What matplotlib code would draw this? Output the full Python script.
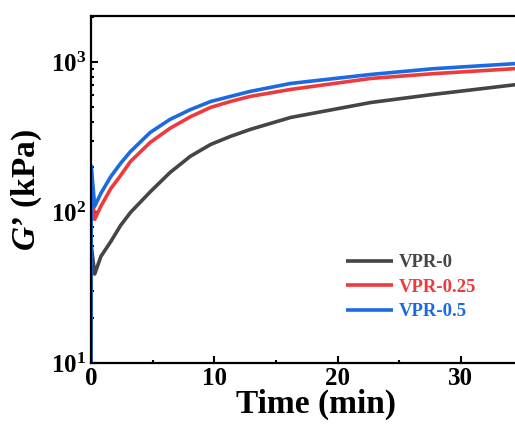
import numpy as np
import matplotlib
matplotlib.use("Agg")
import matplotlib.pyplot as plt
from matplotlib.ticker import FixedLocator, FuncFormatter, LogLocator

plt.rcParams['font.family'] = ['Liberation Serif', 'DejaVu Serif']
plt.rcParams['font.weight'] = 'bold'
plt.rcParams['mathtext.fontset'] = 'custom'
plt.rcParams['mathtext.rm'] = 'Liberation Serif:bold'
plt.rcParams['mathtext.bf'] = 'Liberation Serif:bold'
plt.rcParams['mathtext.it'] = 'Liberation Serif:bold:italic'

# values (time in min, G' in kPa)
time = [0.0, 0.02, 0.3, 0.8, 1.6, 2.4, 3.2, 4.8, 6.4, 8.05, 9.7, 11.3, 12.9, 16.2, 22.7, 27.7, 34.6]
vpr_0 = [5, 60, 39, 51, 64, 82, 100, 137, 184, 236, 283, 320, 356, 428, 538, 608, 709]
vpr_025 = [5, 150, 90, 110, 144, 176, 218, 292, 362, 432, 499, 546, 590, 657, 777, 835, 905]
vpr_05 = [5, 204, 110, 134, 173, 212, 254, 340, 415, 482, 546, 590, 637, 720, 826, 901, 977]

labels = ['VPR-0', 'VPR-0.25', 'VPR-0.5']
colors = ['#454545', '#f0393b', '#1a6be3']

fig = plt.figure(figsize=(5.15, 4.25), dpi=100)
ax = fig.add_axes([91 / 515, 62 / 425, 450 / 515, 347 / 425])

for series, name, c in zip([vpr_0, vpr_025, vpr_05], labels, colors):
    ax.plot(time, series, color=c, lw=2.6, label=name, solid_capstyle='butt')

ax.set_yscale('log')
ax.set_ylim(10, 2020)
ax.set_xlim(0, 36.5)

ax.xaxis.set_major_locator(FixedLocator([0, 10, 20, 30]))
ax.xaxis.set_minor_locator(FixedLocator([5, 15, 25, 35]))
ax.yaxis.set_major_locator(LogLocator(base=10))
ax.yaxis.set_minor_locator(LogLocator(base=10, subs=np.arange(2, 10)))
ax.yaxis.set_major_formatter(FuncFormatter(lambda v, p: r'$\mathbf{10^{%d}}$' % round(np.log10(v))))
ax.yaxis.set_minor_formatter(FuncFormatter(lambda v, p: ''))

ax.tick_params(which='both', direction='in', width=1.5, labelsize=18, top=False, right=False)
ax.tick_params(which='major', length=5)
ax.tick_params(which='minor', length=2.5)
ax.tick_params(axis='x', pad=3)
for s in ax.spines.values():
    s.set_linewidth(1.6)

ax.set_xlabel('Time (min)', fontsize=24, fontweight='bold', labelpad=-1)
ax.set_ylabel("$G$\u2019 (kPa)", fontsize=24, fontweight='bold')
ax.yaxis.set_label_coords(-0.105, 0.5)

leg = ax.legend(loc='upper left', bbox_to_anchor=(346 / 515, 1 - 254 / 425),
                bbox_transform=fig.transFigure, frameon=False, fontsize=13.5,
                handlelength=2.5, handletextpad=0.3, labelspacing=0.4,
                borderaxespad=0, borderpad=0)
for txt, c in zip(leg.get_texts(), colors):
    txt.set_color(c)

fig.savefig('out.png', dpi=100)
